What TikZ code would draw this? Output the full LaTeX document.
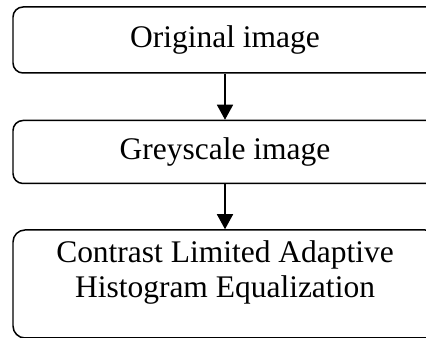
\documentclass[tikz,border=0pt]{standalone}
\usepackage{fontspec}
\setmainfont{Liberation Serif}
\usetikzlibrary{positioning,arrows.meta}

\begin{document}
\begin{tikzpicture}
% Parameters
\def\boxwd{212bp}; \def\gap{23bp};

\tikzset{
  stepbox/.style={draw, line width=0.75pt, rounded corners=5bp,
    minimum width=\boxwd, inner sep=0pt, align=center,
    font=\fontsize{15.8pt}{18pt}\selectfont},
  flow/.style={line width=0.75pt, -{Triangle[width=8bp,length=7.5bp]}}
}

% Frame
\useasboundingbox (0,0) rectangle (213bp,169bp);

% Boxes
\node[stepbox, minimum height=33bp] (orig) at (112.5bp,149bp) {Original image};
\node[stepbox, minimum height=31.5bp, below=\gap of orig] (grey) {Greyscale image};
\node[stepbox, minimum height=54bp, rounded corners=6bp, below=22.5bp of grey]
  (clahe) {Contrast Limited Adaptive\\Histogram Equalization\\[-3bp]\mbox{}};

% Arrows
\draw[flow] (orig) -- (grey);
\draw[flow] (grey) -- (clahe);
\end{tikzpicture}
\end{document}
